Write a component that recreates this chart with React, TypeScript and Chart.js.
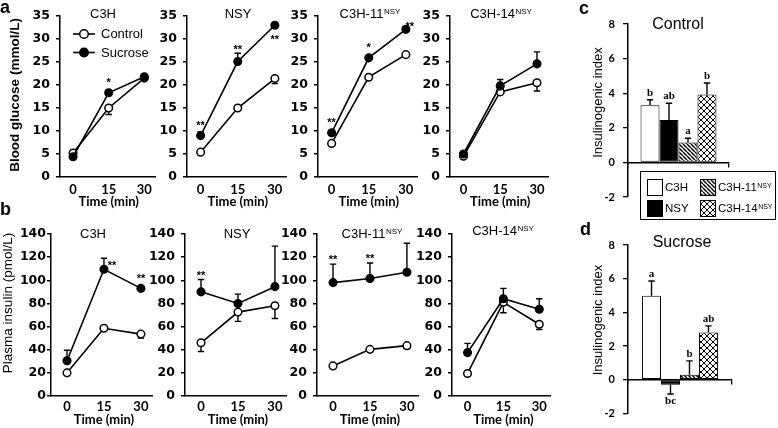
import React, { useEffect, useRef } from "react";
import { Chart, registerables } from "chart.js";

Chart.register(...registerables);

// ---------------- data ----------------
const TIMES = [0, 15, 30];
const GLU_TICKS = [0, 5, 10, 15, 20, 25, 30, 35];
const INS_TICKS = [0, 20, 40, 60, 80, 100, 120, 140];
const IDX_TICKS = [-2, 0, 2, 4, 6, 8];
const SERIES = ["Control", "Sucrose"];
const STRAINS = ["C3H", "NSY", "C3H-11", "C3H-14"];
const STRAIN_SUP = ["", "", "NSY", "NSY"];

// Blood glucose (mmol/L)
const GLU_C3H_CTRL = [5.2, 15.0, 21.5];
const GLU_C3H_CTRL_SE = [0.3, 1.4, 0.4];
const GLU_C3H_SUC = [4.4, 18.3, 21.8];
const GLU_C3H_SUC_SE = [0.2, 0.5, 0.4];
const GLU_C3H_SIG = ["", "*", ""];

const GLU_NSY_CTRL = [5.4, 15.0, 21.4];
const GLU_NSY_CTRL_SE = [0.2, 0.3, 1.1];
const GLU_NSY_SUC = [9.0, 25.1, 33.0];
const GLU_NSY_SUC_SE = [0.8, 1.8, 0.3];
const GLU_NSY_SIG = ["**", "**", "**"];

const GLU_C311_CTRL = [7.3, 21.7, 26.6];
const GLU_C311_CTRL_SE = [0.3, 0.4, 0.4];
const GLU_C311_SUC = [9.6, 25.9, 32.1];
const GLU_C311_SUC_SE = [0.4, 0.5, 0.5];
const GLU_C311_SIG = ["**", "*", "**"];

const GLU_C314_CTRL = [4.5, 18.5, 20.5];
const GLU_C314_CTRL_SE = [0.2, 0.4, 1.8];
const GLU_C314_SUC = [5.0, 19.8, 24.6];
const GLU_C314_SUC_SE = [0.3, 1.4, 2.6];
const GLU_C314_SIG = ["", "", ""];

// Plasma insulin (pmol/L)
const INS_C3H_CTRL = [20, 58.5, 53.5];
const INS_C3H_CTRL_SE = [1, 1.5, 3.5];
const INS_C3H_SUC = [30.5, 109.5, 93];
const INS_C3H_SUC_SE = [9, 9.5, 1.5];
const INS_C3H_SIG = ["", "**", "**"];

const INS_NSY_CTRL = [46, 72.5, 78];
const INS_NSY_CTRL_SE = [7.5, 8, 11];
const INS_NSY_SUC = [90, 80, 94.5];
const INS_NSY_SUC_SE = [10.7, 8, 35];
const INS_NSY_SIG = ["**", "", ""];

const INS_C311_CTRL = [26, 40.3, 43.5];
const INS_C311_CTRL_SE = [1, 1.5, 2.5];
const INS_C311_SUC = [98, 101.5, 107];
const INS_C311_SUC_SE = [16, 13.5, 25];
const INS_C311_SIG = ["**", "**", ""];

const INS_C314_CTRL = [19.5, 81, 62];
const INS_C314_CTRL_SE = [1, 9, 4.5];
const INS_C314_SUC = [37.5, 84, 75];
const INS_C314_SUC_SE = [8, 9, 9];
const INS_C314_SIG = ["", "", ""];

// Insulinogenic index
const IDX_CTRL = [3.3, 2.45, 1.15, 3.93];
const IDX_CTRL_SE = [0.32, 0.97, 0.25, 0.66];
const IDX_CTRL_LETTERS = ["b", "ab", "a", "b"];
const IDX_SUC = [4.98, -0.3, 0.3, 2.8];
const IDX_SUC_SE = [0.88, 0.55, 0.82, 0.4];
const IDX_SUC_LETTERS = ["a", "bc", "b", "ab"];

// ---------------- styles ----------------
const ARIAL = '"Liberation Sans", Arial, Helvetica, sans-serif';
const LATO = 'Lato, "Liberation Sans", sans-serif';
const DEJAVU = '"DejaVu Sans", sans-serif';
const SERIF = '"Liberation Serif", "Times New Roman", serif';

let patternCache: any = null;
function getPatterns() {
  if (patternCache) return patternCache;
  const hc = document.createElement("canvas");
  hc.width = 4;
  hc.height = 4;
  const h = hc.getContext("2d")!;
  h.fillStyle = "#fff";
  h.fillRect(0, 0, 4, 4);
  h.strokeStyle = "#000";
  h.lineWidth = 1.4;
  h.beginPath();
  for (const k of [-4, 0, 4]) {
    h.moveTo(k, 0);
    h.lineTo(k + 4, 4);
  }
  h.stroke();
  const cc = document.createElement("canvas");
  cc.width = 6;
  cc.height = 6;
  const c = cc.getContext("2d")!;
  c.fillStyle = "#fff";
  c.fillRect(0, 0, 6, 6);
  c.strokeStyle = "#000";
  c.lineWidth = 1;
  c.beginPath();
  for (const k of [-6, 0, 6]) {
    c.moveTo(k, 0);
    c.lineTo(k + 6, 6);
    c.moveTo(k + 6, 0);
    c.lineTo(k, 6);
  }
  c.stroke();
  patternCache = {
    hatch: h.createPattern(hc, "repeat"),
    cross: c.createPattern(cc, "repeat"),
  };
  return patternCache;
}
function barFills() {
  const p = getPatterns();
  return ["#ffffff", "#000000", p.hatch, p.cross];
}

function drawSup(ctx: any, main: string, sup: string, x: number, cy: number, size: number, supSize: number, align: string) {
  const f1 = `${size}px ${ARIAL}`;
  const f2 = `${supSize}px ${ARIAL}`;
  ctx.font = f1;
  const w1 = ctx.measureText(main).width;
  ctx.font = f2;
  const w2 = sup ? ctx.measureText(sup).width + 0.5 : 0;
  const x0 = align === "center" ? x - (w1 + w2) / 2 : x;
  const base = cy + size * 0.36;
  ctx.textAlign = "left";
  ctx.textBaseline = "alphabetic";
  ctx.font = f1;
  ctx.fillText(main, x0, base);
  if (sup) {
    ctx.font = f2;
    ctx.fillText(sup, x0 + w1 + 0.5, base - size * 0.716 + supSize * 0.716);
  }
}

function drawErrors(chart: any) {
  const ctx = chart.ctx;
  const ys = chart.scales.y;
  chart.data.datasets.forEach((ds: any, di: number) => {
    if (!ds.errors) return;
    const meta = chart.getDatasetMeta(di);
    meta.data.forEach((el: any, i: number) => {
      const raw = ds.data[i];
      const v = typeof raw === "number" ? raw : raw.y;
      const e = ds.errors[i];
      if (!e) return;
      const dir = ds.errDir !== undefined ? ds.errDir : v >= 0 ? 1 : -1;
      const y0 = ys.getPixelForValue(v);
      const y1 = ys.getPixelForValue(v + dir * e);
      ctx.save();
      ctx.strokeStyle = "#000";
      ctx.lineWidth = 1.4;
      ctx.beginPath();
      ctx.moveTo(el.x, y0);
      ctx.lineTo(el.x, y1);
      ctx.moveTo(el.x - 3.2, y1);
      ctx.lineTo(el.x + 3.2, y1);
      ctx.stroke();
      ctx.restore();
    });
  });
}

const errorBarPlugin = {
  id: "errorBars",
  beforeDatasetsDraw(chart: any) {
    if (chart.config.type === "line") drawErrors(chart);
  },
  afterDatasetsDraw(chart: any) {
    if (chart.config.type === "bar") drawErrors(chart);
  },
};

// ---------------- panel layouts ----------------
const GLU_BASE = { ymax: 35, yticks: GLU_TICKS, xr: [-5.5, 34.5], titleY: 13, timeY: 202, xPad: 5, yTick: 4, yPad: 6 };
const INS_BASE = { ymax: 140, yticks: INS_TICKS, xr: [-6.5, 34.5], titleY: 233, timeY: 419.5, xPad: 3, yTick: 4, yPad: 6 };

const LINE_PANELS: any[] = [
  {
    ...GLU_BASE, box: { x: 0, y: 0, w: 165, h: 212 }, area: { l: 60, t: 16, r: 155, b: 177 }, strain: 0, titleX: 103,
    ctrl: GLU_C3H_CTRL, ctrlSe: GLU_C3H_CTRL_SE, suc: GLU_C3H_SUC, sucSe: GLU_C3H_SUC_SE, sig: GLU_C3H_SIG,
    sigPlace: ["above", "above", "above"],
    letter: "a", letterX: 0, letterY: 13,
    yTitle: "Blood glucose (mmol/L)", yTitleX: 15, yTitleY: 95, yTitleFont: `bold 13.5px ${ARIAL}`,
    legend: { x1: 73, x2: 95, mx: 84, tx: 101, rows: [34, 52.5] },
  },
  {
    ...GLU_BASE, box: { x: 150, y: 0, w: 145, h: 212 }, area: { l: 187, t: 16, r: 286, b: 177 }, strain: 1, titleX: 238,
    ctrl: GLU_NSY_CTRL, ctrlSe: GLU_NSY_CTRL_SE, suc: GLU_NSY_SUC, sucSe: GLU_NSY_SUC_SE, sig: GLU_NSY_SIG,
    sigPlace: ["above", "above", "below"],
  },
  {
    ...GLU_BASE, box: { x: 280, y: 0, w: 145, h: 212 }, area: { l: 318, t: 16, r: 417, b: 177 }, strain: 2, titleX: 370,
    ctrl: GLU_C311_CTRL, ctrlSe: GLU_C311_CTRL_SE, suc: GLU_C311_SUC, sucSe: GLU_C311_SUC_SE, sig: GLU_C311_SIG,
    sigPlace: ["above", "above", "aboveRight"],
  },
  {
    ...GLU_BASE, box: { x: 412, y: 0, w: 145, h: 212 }, area: { l: 450, t: 16, r: 548, b: 177 }, strain: 3, titleX: 501,
    ctrl: GLU_C314_CTRL, ctrlSe: GLU_C314_CTRL_SE, suc: GLU_C314_SUC, sucSe: GLU_C314_SUC_SE, sig: GLU_C314_SIG,
    sigPlace: ["above", "above", "above"],
  },
  {
    ...INS_BASE, box: { x: 0, y: 198, w: 160, h: 230 }, area: { l: 51, t: 234, r: 152, b: 396 }, strain: 0, titleX: 93, yPad: 1,
    ctrl: INS_C3H_CTRL, ctrlSe: INS_C3H_CTRL_SE, suc: INS_C3H_SUC, sucSe: INS_C3H_SUC_SE, sig: INS_C3H_SIG,
    sigPlace: ["above", "right", "above"],
    letter: "b", letterX: 0, letterY: 215,
    yTitle: "Plasma insulin (pmol/L)", yTitleX: 8, yTitleY: 303, yTitleFont: `13.5px ${ARIAL}`,
  },
  {
    ...INS_BASE, box: { x: 145, y: 198, w: 150, h: 230 }, area: { l: 185, t: 234, r: 286, b: 396 }, strain: 1, titleX: 237,
    ctrl: INS_NSY_CTRL, ctrlSe: INS_NSY_CTRL_SE, suc: INS_NSY_SUC, sucSe: INS_NSY_SUC_SE, sig: INS_NSY_SIG,
    sigPlace: ["above", "above", "above"],
  },
  {
    ...INS_BASE, box: { x: 277, y: 198, w: 150, h: 230 }, area: { l: 317, t: 234, r: 418, b: 396 }, strain: 2, titleX: 372,
    ctrl: INS_C311_CTRL, ctrlSe: INS_C311_CTRL_SE, suc: INS_C311_SUC, sucSe: INS_C311_SUC_SE, sig: INS_C311_SIG,
    sigPlace: ["above", "above", "above"],
  },
  {
    ...INS_BASE, box: { x: 410, y: 198, w: 150, h: 230 }, area: { l: 452, t: 234, r: 550, b: 396 }, strain: 3, titleX: 503, titleY: 230,
    ctrl: INS_C314_CTRL, ctrlSe: INS_C314_CTRL_SE, suc: INS_C314_SUC, sucSe: INS_C314_SUC_SE, sig: INS_C314_SIG,
    sigPlace: ["above", "above", "above"],
  },
];

const BAR_PANELS: any[] = [
  {
    box: { x: 575, y: 0, w: 203, h: 222 }, area: { l: 628, t: 24, r: 729, b: 197 }, catPct: 0.752,
    vals: IDX_CTRL, se: IDX_CTRL_SE, letters: IDX_CTRL_LETTERS,
    title: "Control", titleX: 678, titleY: 25, letter: "c", letterX: 579, letterY: 14,
    yTitleX: 598.5, yTitleY: 102.5,
    legend: { box: [640.5, 171.5, 135, 48], sx: [647, 700], tx: [665, 718], rows: [187, 208] },
  },
  {
    box: { x: 575, y: 222, w: 203, h: 206 }, area: { l: 628, t: 245, r: 732, b: 416 }, catPct: 0.73,
    vals: IDX_SUC, se: IDX_SUC_SE, letters: IDX_SUC_LETTERS,
    title: "Sucrose", titleX: 682, titleY: 242.5, letter: "d", letterX: 580, letterY: 235,
    yTitleX: 598.5, yTitleY: 320,
  },
];

// ---------------- configs ----------------
function makeLineConfig(p: any) {
  const ox = p.box.x;
  const oy = p.box.y;
  const decor = {
    id: "decor",
    afterDraw(chart: any) {
      const ctx = chart.ctx;
      const xs = chart.scales.x;
      const ys = chart.scales.y;
      ctx.save();
      ctx.fillStyle = "#000";
      ctx.strokeStyle = "#000";
      drawSup(ctx, STRAINS[p.strain], STRAIN_SUP[p.strain], p.titleX - ox, p.titleY - oy, 13, 8, "center");
      ctx.font = `bold 13px ${LATO}`;
      ctx.textAlign = "center";
      ctx.textBaseline = "middle";
      ctx.fillText("Time (min)", xs.getPixelForValue(15), p.timeY - oy);
      if (p.yTitle) {
        ctx.save();
        ctx.translate(p.yTitleX - ox, p.yTitleY - oy);
        ctx.rotate(-Math.PI / 2);
        ctx.font = p.yTitleFont;
        ctx.textAlign = "center";
        ctx.textBaseline = "middle";
        ctx.fillText(p.yTitle, 0, 0);
        ctx.restore();
      }
      if (p.letter) {
        ctx.font = `bold 18px ${ARIAL}`;
        ctx.textAlign = "left";
        ctx.textBaseline = "alphabetic";
        ctx.fillText(p.letter, p.letterX - ox, p.letterY - oy);
      }
      const meta = chart.getDatasetMeta(1);
      ctx.font = `bold 11px ${ARIAL}`;
      ctx.textAlign = "center";
      ctx.textBaseline = "alphabetic";
      p.sig.forEach((s: string, i: number) => {
        if (!s) return;
        const el = meta.data[i];
        const yM = el.y;
        const yTop = ys.getPixelForValue(p.suc[i] + p.sucSe[i]);
        let X = el.x;
        let Y;
        switch (p.sigPlace[i]) {
          case "right":
            X = el.x + 8;
            Y = yTop + 4;
            break;
          case "below":
            Y = yM + 11;
            break;
          case "aboveRight":
            X = el.x + 4;
            Y = yM - 6;
            break;
          default:
            Y = Math.min(yM - 6, yTop) - 7;
        }
        ctx.fillText(s, X, Y + 6.3);
      });
      if (p.legend) {
        const L = p.legend;
        SERIES.forEach((name, k) => {
          const y = L.rows[k] - oy;
          ctx.strokeStyle = "#000";
          ctx.lineWidth = 1.6;
          ctx.beginPath();
          ctx.moveTo(L.x1 - ox, y);
          ctx.lineTo(L.x2 - ox, y);
          ctx.stroke();
          ctx.beginPath();
          ctx.arc(L.mx - ox, y, 4.3, 0, Math.PI * 2);
          ctx.fillStyle = k === 0 ? "#fff" : "#000";
          ctx.fill();
          ctx.lineWidth = 1.5;
          ctx.stroke();
          ctx.fillStyle = "#000";
          ctx.font = `13px ${ARIAL}`;
          ctx.textAlign = "left";
          ctx.textBaseline = "middle";
          ctx.fillText(name, L.tx - ox, y + 0.5);
        });
      }
      ctx.restore();
    },
  };
  const mk = (vals: number[], se: number[], k: number) => ({
    label: SERIES[k],
    data: TIMES.map((t, i) => ({ x: t, y: vals[i] })),
    errors: se,
    errDir: k === 0 ? -1 : 1,
    borderColor: "#000",
    borderWidth: 1.6,
    pointRadius: 3.8,
    pointBorderWidth: 1.5,
    pointBorderColor: "#000",
    pointBackgroundColor: k === 0 ? "#fff" : "#000",
    tension: 0,
    order: k === 0 ? 2 : 1,
  });
  return {
    type: "line",
    data: { datasets: [mk(p.ctrl, p.ctrlSe, 0), mk(p.suc, p.sucSe, 1)] },
    options: {
      responsive: false,
      animation: false,
      events: [],
      layout: { padding: { left: 0, top: p.area.t - p.box.y, right: p.box.x + p.box.w - p.area.r, bottom: 0 } },
      plugins: { legend: { display: false }, tooltip: { enabled: false }, title: { display: false } },
      scales: {
        x: {
          type: "linear",
          min: p.xr[0],
          max: p.xr[1],
          afterBuildTicks: (s: any) => {
            s.ticks = TIMES.map((v) => ({ value: v }));
          },
          afterFit: (s: any) => {
            s.height = p.box.y + p.box.h - p.area.b;
          },
          grid: { display: false, drawTicks: false, tickLength: 0 },
          border: { display: true, color: "#000", width: 1.5 },
          ticks: { font: { family: LATO, weight: "bold", size: 13 }, color: "#000", padding: p.xPad, maxRotation: 0, autoSkip: false },
        },
        y: {
          type: "linear",
          min: 0,
          max: p.ymax,
          afterBuildTicks: (s: any) => {
            s.ticks = p.yticks.map((v: number) => ({ value: v }));
          },
          afterFit: (s: any) => {
            s.width = p.area.l - p.box.x;
          },
          grid: { display: true, drawOnChartArea: false, drawTicks: true, tickLength: p.yTick, color: "#000", lineWidth: 1.5 },
          border: { display: true, color: "#000", width: 1.5 },
          ticks: { font: { family: DEJAVU, weight: "bold", size: 12.5 }, color: "#000", padding: p.yPad, autoSkip: false },
        },
      },
    },
    plugins: [errorBarPlugin, decor],
  };
}

function makeBarConfig(p: any) {
  const ox = p.box.x;
  const oy = p.box.y;
  const fills = barFills();
  const decor = {
    id: "decorBar",
    afterDraw(chart: any) {
      const ctx = chart.ctx;
      const ys = chart.scales.y;
      ctx.save();
      ctx.fillStyle = "#000";
      ctx.font = `16px ${ARIAL}`;
      ctx.textAlign = "center";
      ctx.textBaseline = "middle";
      ctx.fillText(p.title, p.titleX - ox, p.titleY - oy);
      ctx.font = `bold 18px ${ARIAL}`;
      ctx.textAlign = "left";
      ctx.textBaseline = "alphabetic";
      ctx.fillText(p.letter, p.letterX - ox, p.letterY - oy);
      ctx.save();
      ctx.translate(p.yTitleX - ox, p.yTitleY - oy);
      ctx.rotate(-Math.PI / 2);
      ctx.font = `13px ${ARIAL}`;
      ctx.textAlign = "center";
      ctx.textBaseline = "middle";
      ctx.fillText("Insulinogenic index", 0, 0);
      ctx.restore();
      ctx.font = `bold 11px ${SERIF}`;
      ctx.textAlign = "center";
      p.vals.forEach((v: number, i: number) => {
        const el = chart.getDatasetMeta(i).data[0];
        if (v >= 0) {
          ctx.textBaseline = "alphabetic";
          ctx.fillText(p.letters[i], el.x, ys.getPixelForValue(v + p.se[i]) - 4);
        } else {
          ctx.textBaseline = "top";
          ctx.fillText(p.letters[i], el.x, ys.getPixelForValue(v - p.se[i]) + 2);
        }
      });
      if (p.legend) {
        const L = p.legend;
        ctx.strokeStyle = "#000";
        ctx.lineWidth = 1;
        ctx.strokeRect(L.box[0] - ox, L.box[1] - oy, L.box[2], L.box[3]);
        STRAINS.forEach((s, i) => {
          const col = i < 2 ? 0 : 1;
          const row = i % 2;
          const cy = L.rows[row] - oy;
          ctx.fillStyle = fills[i];
          ctx.fillRect(L.sx[col] - ox, cy - 8, 15, 16);
          ctx.strokeRect(L.sx[col] - ox + 0.5, cy - 8 + 0.5, 15, 16);
          ctx.fillStyle = "#000";
          drawSup(ctx, s, STRAIN_SUP[i], L.tx[col] - ox, cy, 11.5, 7, "left");
        });
      }
      ctx.restore();
    },
  };
  return {
    type: "bar",
    data: {
      labels: [""],
      datasets: STRAINS.map((s, i) => ({
        label: s,
        data: [p.vals[i]],
        errors: [p.se[i]],
        backgroundColor: fills[i],
        borderColor: "#000",
        borderWidth: 1,
        borderSkipped: false,
        categoryPercentage: p.catPct,
        barPercentage: 1,
      })),
    },
    options: {
      responsive: false,
      animation: false,
      events: [],
      layout: {
        padding: {
          left: 0,
          top: p.area.t - p.box.y,
          right: p.box.x + p.box.w - p.area.r,
          bottom: p.box.y + p.box.h - p.area.b,
        },
      },
      plugins: { legend: { display: false }, tooltip: { enabled: false }, title: { display: false } },
      scales: {
        x: {
          type: "category",
          position: { y: 0 },
          grid: { display: true, drawOnChartArea: false, drawTicks: true, tickLength: 4, color: "#000", lineWidth: 1.3, offset: true },
          border: { display: true, color: "#000", width: 1.5 },
          ticks: { display: false },
        },
        y: {
          type: "linear",
          min: -2,
          max: 8,
          afterBuildTicks: (s: any) => {
            s.ticks = IDX_TICKS.map((v) => ({ value: v }));
          },
          afterFit: (s: any) => {
            s.width = p.area.l - p.box.x;
          },
          grid: { display: true, drawOnChartArea: false, drawTicks: true, tickLength: 5, color: "#000", lineWidth: 1.3 },
          border: { display: true, color: "#000", width: 1.5 },
          ticks: { font: { family: LATO, weight: "bold", size: 11 }, color: "#000", padding: 8, autoSkip: false },
        },
      },
    },
    plugins: [errorBarPlugin, decor],
  };
}

// ---------------- components ----------------
function ChartBox({ box, make }: { box: any; make: () => any }) {
  const ref = useRef<HTMLCanvasElement | null>(null);
  useEffect(() => {
    const chart = new Chart(ref.current as HTMLCanvasElement, make());
    return () => chart.destroy();
  }, []);
  return (
    <canvas
      ref={ref}
      width={box.w}
      height={box.h}
      style={{ position: "absolute", left: box.x, top: box.y, width: box.w, height: box.h }}
    />
  );
}

export default function App() {
  return (
    <div style={{ position: "fixed", left: 0, top: 0, width: 778, height: 428, background: "#fff", overflow: "hidden" }}>
      {LINE_PANELS.map((p, i) => (
        <ChartBox key={"l" + i} box={p.box} make={() => makeLineConfig(p)} />
      ))}
      {BAR_PANELS.map((p, i) => (
        <ChartBox key={"b" + i} box={p.box} make={() => makeBarConfig(p)} />
      ))}
    </div>
  );
}
